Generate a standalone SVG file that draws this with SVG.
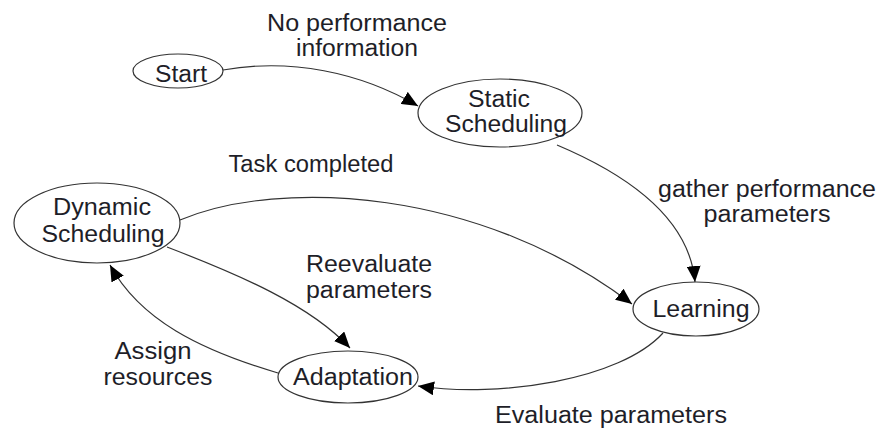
<svg xmlns="http://www.w3.org/2000/svg" width="883" height="430" viewBox="0 0 883 430">
  <style>
    .node ellipse { fill: #ffffff; stroke: #333333; stroke-width: 1.2; }
    .lbl { font-family: "Liberation Sans", Arial, sans-serif; font-size: 23px; fill: #1e1e28; text-anchor: middle; }
    .edge { fill: none; stroke: #333333; stroke-width: 1.2; marker-end: url(#arrow); }
  </style>
  <defs>
    <marker id="arrow" markerUnits="userSpaceOnUse" markerWidth="18" markerHeight="14" refX="16" refY="7" orient="auto">
      <path d="M0,0 L16,7 L0,14 Z" fill="#000000"/>
    </marker>
  </defs>
  <rect width="883" height="430" fill="#ffffff"/>

  <!-- connectors -->
  <g id="edges">
    <path class="edge" d="M223,70 C 290,58 360,72 418,106"/>
    <path class="edge" d="M557,145 C 640,180 690,225 695,282"/>
    <path class="edge" d="M180,220 C 280,178 480,188 632,304"/>
    <path class="edge" d="M167,247 C 240,275 310,305 350,348"/>
    <path class="edge" d="M278,373 C 200,350 140,320 110,265"/>
    <path class="edge" d="M663,333 C 620,380 500,398 418,386"/>
  </g>

  <!-- edge labels -->
  <g id="edge-labels">
    <text class="lbl" x="357" y="31" textLength="180" lengthAdjust="spacingAndGlyphs">No performance</text>
    <text class="lbl" x="357" y="56" textLength="122" lengthAdjust="spacingAndGlyphs">information</text>
    <text class="lbl" x="311" y="172" textLength="165" lengthAdjust="spacingAndGlyphs">Task completed</text>
    <text class="lbl" x="767" y="197" textLength="218" lengthAdjust="spacingAndGlyphs">gather performance</text>
    <text class="lbl" x="767" y="222" textLength="127" lengthAdjust="spacingAndGlyphs">parameters</text>
    <text class="lbl" x="369" y="272" textLength="126" lengthAdjust="spacingAndGlyphs">Reevaluate</text>
    <text class="lbl" x="369" y="298" textLength="126" lengthAdjust="spacingAndGlyphs">parameters</text>
    <text class="lbl" x="153" y="359" textLength="77" lengthAdjust="spacingAndGlyphs">Assign</text>
    <text class="lbl" x="158" y="385" textLength="109" lengthAdjust="spacingAndGlyphs">resources</text>
    <text class="lbl" x="611" y="423" textLength="232" lengthAdjust="spacingAndGlyphs">Evaluate parameters</text>
  </g>

  <!-- nodes -->
  <g id="start" class="node">
    <ellipse cx="178" cy="71" rx="45" ry="17"/>
    <text class="lbl" x="181" y="82" textLength="52" lengthAdjust="spacingAndGlyphs">Start</text>
  </g>
  <g id="static-scheduling" class="node">
    <ellipse cx="500" cy="113" rx="82" ry="34"/>
    <text class="lbl" x="499" y="107" textLength="62" lengthAdjust="spacingAndGlyphs">Static</text>
    <text class="lbl" x="506" y="132" textLength="122" lengthAdjust="spacingAndGlyphs">Scheduling</text>
  </g>
  <g id="dynamic-scheduling" class="node">
    <ellipse cx="97" cy="223" rx="83" ry="40"/>
    <text class="lbl" x="102" y="215" textLength="98" lengthAdjust="spacingAndGlyphs">Dynamic</text>
    <text class="lbl" x="103" y="242" textLength="123" lengthAdjust="spacingAndGlyphs">Scheduling</text>
  </g>
  <g id="learning" class="node">
    <ellipse cx="696" cy="309" rx="63" ry="27"/>
    <text class="lbl" x="701" y="317" textLength="97" lengthAdjust="spacingAndGlyphs">Learning</text>
  </g>
  <g id="adaptation" class="node">
    <ellipse cx="348" cy="377" rx="70" ry="26"/>
    <text class="lbl" x="353" y="385" textLength="120" lengthAdjust="spacingAndGlyphs">Adaptation</text>
  </g>
</svg>
